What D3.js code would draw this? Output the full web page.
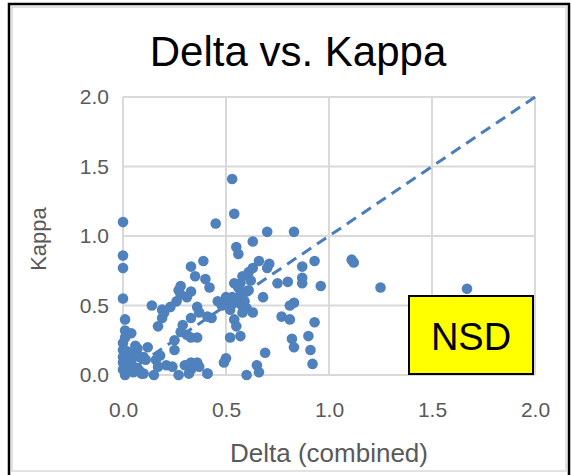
<!DOCTYPE html>
<html>
<head>
<meta charset="utf-8">
<script src="https://cdn.jsdelivr.net/npm/d3@7"></script>
<style>
  body { margin: 0; background: #fff; }
  svg { display: block; }
</style>
</head>
<body>
<svg id="chart" width="571" height="475"></svg>
<script>
// Delta (combined) values
const deltaValues = [
  0.53, 0.54, 0.00, 0.45, 0.70, 0.83, 0.63, 0.55, 0.56, 1.11,
  1.12, 1.25, 1.67, 0.93, 0.87, 0.87, 0.87, 0.80, 0.96, 0.83,
  0.81, 0.77, 0.81, 0.93, 0.82, 0.83, 0.90, 0.91, 0.92, 0.66,
  0.71, 0.70, 0.75, 0.68, 0.63, 0.61, 0.58, 0.62, 0.57, 0.54,
  0.60, 0.57, 0.53, 0.50, 0.46, 0.50, 0.53, 0.57, 0.60, 0.63,
  0.58, 0.54, 0.55, 0.52, 0.57, 0.50, 0.49, 0.69, 0.65, 0.66,
  0.60, 0.41, 0.56, 0.43, 0.61, 0.48, 0.52, 0.55, 0.59,
  0.39, 0.33, 0.35, 0.40, 0.42, 0.28, 0.33, 0.28, 0.31, 0.26,
  0.23, 0.20, 0.19, 0.17, 0.14, 0.36, 0.37, 0.41, 0.33, 0.29,
  0.28, 0.31, 0.36, 0.25, 0.25, 0.18, 0.16, 0.12, 0.07, 0.10,
  0.04, 0.21, 0.24, 0.31, 0.33, 0.36, 0.33, 0.27, 0.41, 0.15,
  0.09, 0.05, 0.01, 0.00, 0.00, 0.00, 0.01, 0.01, 0.04, 0.00,
  0.00, 0.00, 0.00, 0.00, 0.06, 0.08, 0.11, 0.07, 0.17, 0.30,
  0.37, 0.10, 0.32, 0.27, 0.19, 0.33, 0.03, 0.02, 0.02, 0.05,
  0.08, 0.01
];
// Kappa values, same order
const kappaValues = [
  1.41, 1.16, 1.10, 1.09, 1.03, 1.03, 0.96, 0.92, 0.87, 0.83,
  0.81, 0.63, 0.62, 0.82, 0.78, 0.70, 0.66, 0.67, 0.64, 0.52,
  0.50, 0.42, 0.40, 0.38, 0.26, 0.20, 0.28, 0.18, 0.08, 0.82,
  0.80, 0.77, 0.66, 0.56, 0.77, 0.74, 0.71, 0.68, 0.66, 0.66,
  0.60, 0.58, 0.56, 0.56, 0.53, 0.53, 0.51, 0.51, 0.48, 0.45,
  0.45, 0.40, 0.35, 0.27, 0.28, 0.12, 0.09, 0.16, 0.07, 0.02,
  0.00, 0.01, 0.63, 0.41, 0.61, 0.50, 0.47, 0.55, 0.53,
  0.82, 0.78, 0.71, 0.69, 0.63, 0.64, 0.60, 0.58, 0.56, 0.53,
  0.49, 0.45, 0.41, 0.35, 0.50, 0.49, 0.45, 0.42, 0.41, 0.36,
  0.31, 0.29, 0.27, 0.25, 0.18, 0.14, 0.11, 0.20, 0.19, 0.13,
  0.09, 0.07, 0.06, 0.07, 0.09, 0.09, 0.04, 0.00, 0.01, 0.00,
  0.01, 0.02, 0.00, 0.86, 0.77, 0.55, 0.40, 0.32, 0.30, 0.23,
  0.18, 0.13, 0.09, 0.04, 0.21, 0.13, 0.11, 0.05, 0.06, 0.07,
  0.06, 0.01, 0.01, 0.61, 0.47, 0.27, 0.11, 0.17, 0.06, 0.15,
  0.03, 0.27
];
const xTicks = [0, 0.5, 1.0, 1.5, 2.0];
const yTicks = [0, 0.5, 1.0, 1.5, 2.0];
const refLine = [[0, 0], [2, 2]];
const titleText = "Delta vs. Kappa";
const xTitle = "Delta (combined)";
const yTitle = "Kappa";
const boxLabel = "NSD";

const points = deltaValues.map((d, i) => ({ x: d, y: kappaValues[i] }));

const svg = d3.select("#chart");
const font = "'Liberation Sans', Arial, sans-serif";
const gridColor = "#d9d9d9";
const textGray = "#595959";
const blue = "#4f81bd";

// chart frame: black outer border, grey inner border
svg.append("rect")
    .attr("x", 12).attr("y", 7)
    .attr("width", 554).attr("height", 464)
    .attr("fill", "#fff")
    .attr("stroke", "#d9d9d9")
    .attr("stroke-width", 1.5);
svg.append("path")
    .attr("d", "M9,480 V4 H569 V480")
    .attr("fill", "none")
    .attr("stroke", "#000")
    .attr("stroke-width", 2.5);

// scales
const x = d3.scaleLinear().domain([0, 2]).range([123, 535]);
const y = d3.scaleLinear().domain([0, 2]).range([375, 97]);

// gridlines
svg.append("g")
    .selectAll("line.v")
    .data(xTicks)
    .enter().append("line")
    .attr("x1", d => x(d)).attr("x2", d => x(d))
    .attr("y1", y(0)).attr("y2", y(2))
    .attr("stroke", gridColor)
    .attr("stroke-width", 2);
svg.append("g")
    .selectAll("line.h")
    .data(yTicks)
    .enter().append("line")
    .attr("x1", x(0)).attr("x2", x(2))
    .attr("y1", d => y(d)).attr("y2", d => y(d))
    .attr("stroke", gridColor)
    .attr("stroke-width", 2);

// tick labels via axes
const xAxis = svg.append("g")
    .attr("transform", `translate(0,${y(0)})`)
    .call(d3.axisBottom(x).tickValues(xTicks).tickFormat(d3.format(".1f")).tickSize(0).tickPadding(27));
const yAxis = svg.append("g")
    .attr("transform", `translate(${x(0)},0)`)
    .call(d3.axisLeft(y).tickValues(yTicks).tickFormat(d3.format(".1f")).tickSize(0).tickPadding(14));
[xAxis, yAxis].forEach(g => {
    g.select(".domain").remove();
    g.selectAll("text")
        .attr("fill", textGray)
        .style("font-family", font)
        .style("font-size", "21px");
});

// y = x reference line
svg.append("path")
    .datum(refLine)
    .attr("d", d3.line().x(d => x(d[0])).y(d => y(d[1])))
    .attr("fill", "none")
    .attr("stroke", "#4a7ebb")
    .attr("stroke-width", 3)
    .attr("stroke-dasharray", "11,7");

// points
svg.append("g")
    .selectAll("circle")
    .data(points)
    .enter().append("circle")
    .attr("cx", d => x(d.x))
    .attr("cy", d => y(d.y))
    .attr("r", 5.3)
    .attr("fill", blue);

// NSD box
const box = svg.append("g");
box.append("rect")
    .attr("x", 409).attr("y", 296)
    .attr("width", 124).attr("height", 78)
    .attr("fill", "#ffff00")
    .attr("stroke", "#000")
    .attr("stroke-width", 2);
box.append("text")
    .attr("x", 471).attr("y", 350)
    .attr("text-anchor", "middle")
    .style("font-family", font)
    .style("font-size", "38px")
    .text(boxLabel);

// titles
svg.append("text")
    .attr("x", 298).attr("y", 66)
    .attr("text-anchor", "middle")
    .style("font-family", font)
    .style("font-size", "42px")
    .text(titleText);
svg.append("text")
    .attr("x", 329).attr("y", 462)
    .attr("text-anchor", "middle")
    .attr("fill", textGray)
    .style("font-family", font)
    .style("font-size", "26px")
    .text(xTitle);
svg.append("text")
    .attr("transform", "translate(46,239) rotate(-90)")
    .attr("text-anchor", "middle")
    .attr("fill", textGray)
    .style("font-family", font)
    .style("font-size", "22px")
    .text(yTitle);
</script>
</body>
</html>
